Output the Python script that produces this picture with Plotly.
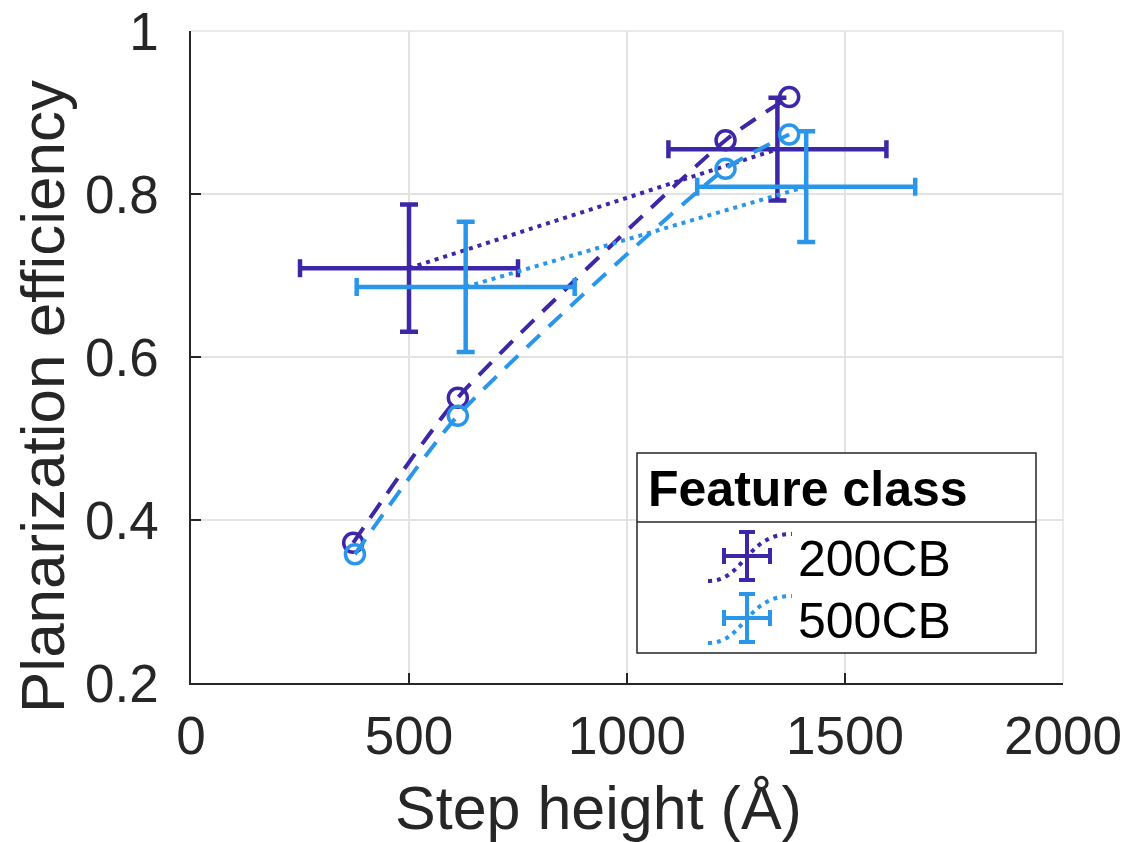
import plotly.graph_objects as go

# ---------------- data ----------------
series_names = ["200CB", "500CB"]
colors = ["#3E26A8", "#2A96EA"]

# circle markers (measured points) joined by dashed curve
circ_x_200 = [372, 612, 1226, 1372]
circ_y_200 = [0.372, 0.550, 0.866, 0.919]
circ_x_500 = [376, 612, 1226, 1372]
circ_y_500 = [0.358, 0.528, 0.831, 0.873]

# error-bar points (mean ± spread) joined by dotted line
eb_x_200 = [500, 1345]
eb_y_200 = [0.709, 0.855]
eb_xerr_200 = [250, 250]
eb_yerr_200 = [0.078, 0.063]

eb_x_500 = [630, 1411]
eb_y_500 = [0.686, 0.809]
eb_xerr_500 = [250, 250]
eb_yerr_500 = [0.080, 0.068]

x_ticks = [0, 500, 1000, 1500, 2000]
y_ticks = [0.2, 0.4, 0.6, 0.8, 1.0]
y_tick_text = ["0.2", "0.4", "0.6", "0.8", "1"]

x_title = "Step height (Å)"
y_title = "Planarization efficiency"

# ---------------- layout geometry ----------------
W, H = 1122, 842
L, R, T, B = 191, 1063, 31, 683
FONT = "Liberation Sans, Arial, Helvetica, sans-serif"
TXT = "#262626"

def px(x):
    return (x - L) / (R - L)

def py(y):
    return (B - y) / (B - T)

fig = go.Figure()

groups = [
    (circ_x_200, circ_y_200, eb_x_200, eb_y_200, eb_xerr_200, eb_yerr_200),
    (circ_x_500, circ_y_500, eb_x_500, eb_y_500, eb_xerr_500, eb_yerr_500),
]

for (cx, cy, ex, ey, exe, eye), name, col in zip(groups, series_names, colors):
    # dotted line between error-bar centres
    fig.add_trace(go.Scatter(x=ex, y=ey, mode="lines", showlegend=False,
                             line=dict(color=col, width=4, dash="4px,5px")))
    # dashed curve through circles
    fig.add_trace(go.Scatter(x=cx, y=cy, mode="lines", showlegend=False,
                             line=dict(color=col, width=4, dash="18px,12px", shape="spline", smoothing=0.6)))
    # circles
    fig.add_trace(go.Scatter(x=cx, y=cy, mode="markers", showlegend=False,
                             marker=dict(symbol="circle-open", size=19, color=col,
                                         line=dict(width=3.5, color=col))))
    # error bars
    fig.add_trace(go.Scatter(x=ex, y=ey, mode="markers", showlegend=False, name=name,
                             marker=dict(size=1, color=col, opacity=0),
                             error_x=dict(type="data", array=exe, color=col, thickness=4.5, width=9),
                             error_y=dict(type="data", array=eye, color=col, thickness=4.5, width=9)))

shapes = []
annotations = []

# light border at top and right (MATLAB grid at limits)
shapes.append(dict(type="line", xref="paper", yref="paper", x0=0, x1=1, y0=1, y1=1,
                   line=dict(color="#e3e3e3", width=1.5), layer="below"))
shapes.append(dict(type="line", xref="paper", yref="paper", x0=1, x1=1, y0=0, y1=1,
                   line=dict(color="#e3e3e3", width=1.5), layer="below"))

# axis titles
annotations.append(dict(text=x_title, xref="paper", yref="paper", x=px(598), y=py(808),
                        xanchor="center", yanchor="middle", showarrow=False,
                        font=dict(family=FONT, size=61, color=TXT)))
annotations.append(dict(text=y_title, xref="paper", yref="paper", x=px(42), y=py(397),
                        xanchor="center", yanchor="middle", showarrow=False, textangle=-90,
                        font=dict(family=FONT, size=62, color=TXT)))

# ---------------- manual legend ----------------
lx0, lx1, ly0, ly1, lsep = 637, 1036, 453, 653, 522
shapes.append(dict(type="rect", xref="paper", yref="paper",
                   x0=px(lx0), x1=px(lx1), y0=py(ly1), y1=py(ly0),
                   line=dict(color="#262626", width=1.5), fillcolor="white", layer="above"))
shapes.append(dict(type="line", xref="paper", yref="paper",
                   x0=px(lx0), x1=px(lx1), y0=py(lsep), y1=py(lsep),
                   line=dict(color="#262626", width=1.5), layer="above"))
annotations.append(dict(text="<b>Feature class</b>", xref="paper", yref="paper",
                        x=px(646), y=py(489), xanchor="left", yanchor="middle", showarrow=False,
                        font=dict(family=FONT, size=50, color="black")))

for i, (name, col) in enumerate(zip(series_names, colors)):
    cy0 = 556 + i * 62
    cx0 = 747
    # dotted S curve
    path = (f"M {px(708)},{py(cy0+25)} C {px(745)},{py(cy0+25)} {px(745)},{py(cy0-22)} {px(792)},{py(cy0-22)}")
    shapes.append(dict(type="path", xref="paper", yref="paper", path=path,
                       line=dict(color=col, width=4, dash="4px,5px"), layer="above"))
    # error-bar cross
    hw, hh, cap = 23, 24, 8
    for seg in [
        (cx0 - hw, cy0, cx0 + hw, cy0),
        (cx0, cy0 - hh, cx0, cy0 + hh),
        (cx0 - hw, cy0 - cap, cx0 - hw, cy0 + cap),
        (cx0 + hw, cy0 - cap, cx0 + hw, cy0 + cap),
        (cx0 - cap, cy0 - hh, cx0 + cap, cy0 - hh),
        (cx0 - cap, cy0 + hh, cx0 + cap, cy0 + hh),
    ]:
        shapes.append(dict(type="line", xref="paper", yref="paper",
                           x0=px(seg[0]), y0=py(seg[1]), x1=px(seg[2]), y1=py(seg[3]),
                           line=dict(color=col, width=4), layer="above"))
    annotations.append(dict(text=name, xref="paper", yref="paper",
                            x=px(796), y=py(cy0 + 3), xanchor="left", yanchor="middle", showarrow=False,
                            font=dict(family=FONT, size=50, color="black")))

fig.update_layout(
    width=W, height=H,
    margin=dict(l=L, r=W - R, t=T, b=H - B, pad=0, autoexpand=False),
    paper_bgcolor="white", plot_bgcolor="white",
    font=dict(family=FONT, color=TXT),
    showlegend=False,
    shapes=shapes, annotations=annotations,
    xaxis=dict(range=[0, 2000], tickvals=x_ticks, ticks="inside", ticklen=10, tickwidth=1.5,
               tickcolor=TXT, showline=True, linecolor=TXT, linewidth=1.5, mirror=False,
               showgrid=True, gridcolor="#e3e3e3", gridwidth=1.5, zeroline=False, automargin=False,
               tickfont=dict(family=FONT, size=53, color=TXT), ticklabelstandoff=6),
    yaxis=dict(range=[0.2, 1.0], tickvals=y_ticks, ticktext=y_tick_text, ticks="inside", ticklen=10,
               tickwidth=1.5, tickcolor=TXT, showline=True, linecolor=TXT, linewidth=1.5, mirror=False,
               showgrid=True, gridcolor="#e3e3e3", gridwidth=1.5, zeroline=False, automargin=False,
               tickfont=dict(family=FONT, size=53, color=TXT), ticklabelstandoff=20),
)

fig.write_html("out.html")
